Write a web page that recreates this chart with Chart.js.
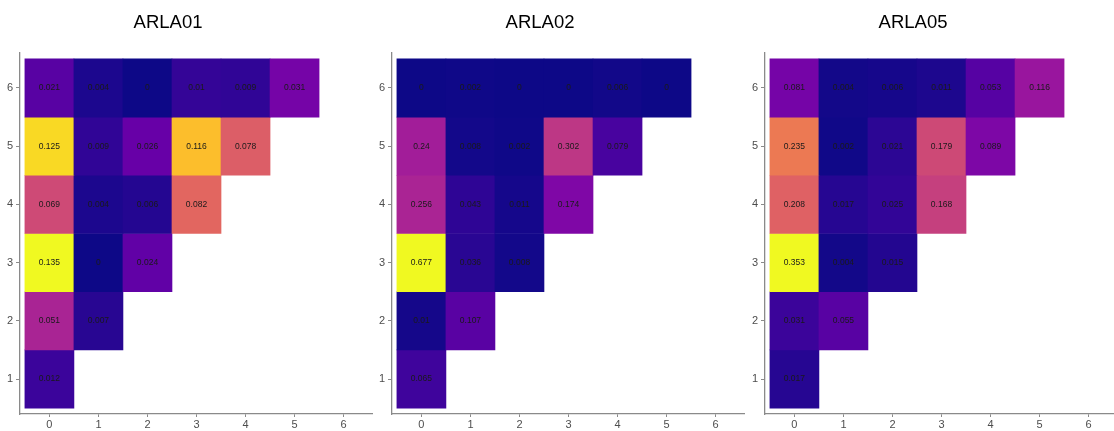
<!DOCTYPE html>
<html>
<head>
<meta charset="utf-8">
<script src="https://cdn.jsdelivr.net/npm/chart.js"></script>
<style>
  html, body { margin:0; padding:0; background:#fff; overflow:hidden; }
  #wrap { position:relative; width:1114px; height:431px; overflow:hidden; }
  canvas { position:absolute; top:0; }
</style>
</head>
<body>
<div id="wrap">
  <canvas id="p0" width="373" height="431" style="left:0px"></canvas>
  <canvas id="p1" width="373" height="431" style="left:372px"></canvas>
  <canvas id="p2" width="373" height="431" style="left:745px"></canvas>
</div>
<script>
// Dados
var xTicks = [0, 1, 2, 3, 4, 5, 6];
var yTicks = [1, 2, 3, 4, 5, 6];
var rowsY = [6, 5, 4, 3, 2, 1]; // linha de cima para baixo
var panelTitles = ["ARLA01", "ARLA02", "ARLA05"];

// valores por linha (y=6 ... y=1), colunas x=0,1,2...
var arla01 = [
  [0.021, 0.004, 0, 0.01, 0.009, 0.031],
  [0.125, 0.009, 0.026, 0.116, 0.078],
  [0.069, 0.004, 0.006, 0.082],
  [0.135, 0, 0.024],
  [0.051, 0.007],
  [0.012]
];
var arla02 = [
  [0, 0.002, 0, 0, 0.006, 0],
  [0.24, 0.008, 0.002, 0.302, 0.079],
  [0.256, 0.043, 0.011, 0.174],
  [0.677, 0.036, 0.008],
  [0.01, 0.107],
  [0.065]
];
var arla05 = [
  [0.081, 0.004, 0.006, 0.011, 0.053, 0.116],
  [0.235, 0.002, 0.021, 0.179, 0.089],
  [0.208, 0.017, 0.025, 0.168],
  [0.353, 0.004, 0.015],
  [0.031, 0.055],
  [0.017]
];
var panels = [arla01, arla02, arla05];

// Estilo
var font_family = "'Liberation Sans', Arial, sans-serif";
var axis_color = "#8a8a8a";
var tick_color = "#4d4d4d";

// paleta plasma
var plasma = ["#0d0887", "#41049d", "#6a00a8", "#8f0da4", "#b12a90", "#cc4778",
              "#e16462", "#f2844b", "#fca636", "#fcce25", "#f0f921"];

function hexToRgb(h) {
  return [parseInt(h.substr(1, 2), 16), parseInt(h.substr(3, 2), 16), parseInt(h.substr(5, 2), 16)];
}

function plasmaColor(t) {
  t = Math.max(0, Math.min(1, t));
  var pos = t * (plasma.length - 1);
  var i = Math.min(Math.floor(pos), plasma.length - 2);
  var f = pos - i;
  var a = hexToRgb(plasma[i]), b = hexToRgb(plasma[i + 1]);
  var c = a.map(function (v, k) { return Math.round(v + (b[k] - v) * f); });
  return "rgb(" + c.join(",") + ")";
}

// Rótulos dentro das células
var cellLabels = {
  id: "cellLabels",
  afterDatasetsDraw: function (chart) {
    var ctx = chart.ctx;
    var xs = chart.scales.x, ys = chart.scales.y;
    ctx.save();
    ctx.font = "8.5px " + font_family;
    ctx.fillStyle = "#1a1a1a";
    ctx.textAlign = "center";
    ctx.textBaseline = "middle";
    chart.data.datasets.forEach(function (ds) {
      ds.data.forEach(function (d, j) {
        ctx.fillText(String(ds.values[j]), xs.getPixelForValue(d.x), ys.getPixelForValue(ds.rowY));
      });
    });
    ctx.restore();
  }
};

// Título
var panelTitle = {
  id: "panelTitle",
  afterDraw: function (chart) {
    var ctx = chart.ctx;
    ctx.save();
    ctx.font = "18.5px " + font_family;
    ctx.fillStyle = "#000";
    ctx.textAlign = "center";
    ctx.textBaseline = "middle";
    ctx.fillText(chart.options.plugins.panelTitle.text, 168, 23);
    ctx.restore();
  }
};

function buildPanel(idx) {
  var rows = panels[idx];
  var maxV = Math.max.apply(null, rows.map(function (r) { return Math.max.apply(null, r); }));
  var datasets = rows.map(function (vals, r) {
    var y = rowsY[r];
    return {
      rowY: y,
      values: vals,
      data: vals.map(function (v, j) { return { x: xTicks[j], y: [y - 0.5, y + 0.5] }; }),
      backgroundColor: vals.map(function (v) { return plasmaColor(v / maxV); }),
      borderWidth: 0,
      barPercentage: 1,
      categoryPercentage: 1,
      grouped: false
    };
  });

  new Chart(document.getElementById("p" + idx), {
    type: "bar",
    data: { datasets: datasets },
    options: {
      responsive: false,
      animation: false,
      devicePixelRatio: 1,
      layout: { padding: { top: 53, left: 0, right: 0, bottom: 0 } },
      plugins: {
        legend: { display: false },
        tooltip: { enabled: false },
        panelTitle: { text: panelTitles[idx] }
      },
      scales: {
        x: {
          type: "linear", min: -0.6, max: 6.6, offset: false,
          afterBuildTicks: function (s) { s.ticks = xTicks.map(function (v) { return { value: v }; }); },
          afterFit: function (s) { s.height = 17; },
          grid: { offset: false, drawOnChartArea: false, drawTicks: true, tickLength: 3, color: axis_color },
          border: { display: true, color: axis_color, width: 1.3 },
          ticks: { padding: 1, color: tick_color, font: { family: font_family, size: 11 }, maxRotation: 0 }
        },
        y: {
          type: "linear", min: 0.4, max: 6.6,
          afterBuildTicks: function (s) { s.ticks = yTicks.map(function (v) { return { value: v }; }); },
          afterFit: function (s) { s.width = 20; },
          grid: { drawOnChartArea: false, drawTicks: true, tickLength: 4, color: axis_color },
          border: { display: true, color: axis_color, width: 1.3 },
          ticks: { padding: 3, color: tick_color, font: { family: font_family, size: 11 } }
        }
      }
    },
    plugins: [cellLabels, panelTitle]
  });
}

for (var p = 0; p < panels.length; p++) buildPanel(p);
</script>
</body>
</html>
